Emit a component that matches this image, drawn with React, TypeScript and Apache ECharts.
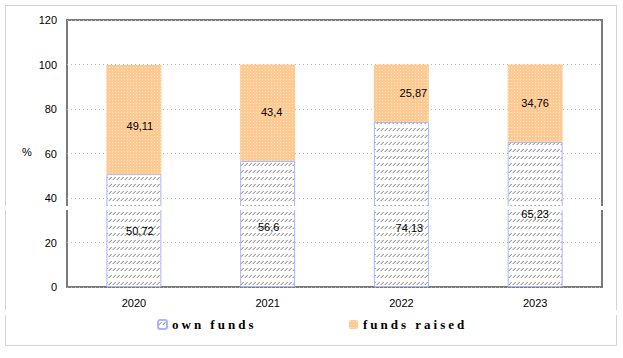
import React, { useEffect, useRef } from "react";
import * as echarts from "echarts";

const years = ["2020", "2021", "2022", "2023"];
const ownFunds = [50.72, 56.6, 74.13, 65.23];
const fundsRaised = [49.11, 43.4, 25.87, 34.76];
const ownLabelOffsets = [[6, 0], [1, 3], [8, 23], [0, 0]];
const raisedLabelOffsets = [[6, 6], [4, -1], [12, 0], [0, 0]];
const yTicks = { min: 0, max: 120, interval: 20 };

function hatchPattern(): HTMLCanvasElement {
  const c = document.createElement("canvas");
  c.width = 4;
  c.height = 7;
  const ctx = c.getContext("2d")!;
  ctx.fillStyle = "#ffffff";
  ctx.fillRect(0, 0, 4, 7);
  ctx.fillStyle = "#a4a4a4";
  ctx.fillRect(3, 2, 1, 1);
  ctx.fillRect(2, 3, 1, 1);
  ctx.fillRect(1, 4, 1, 1);
  ctx.fillStyle = "#d4d4d4";
  ctx.fillRect(2, 2, 1, 1);
  ctx.fillRect(1, 3, 1, 1);
  ctx.fillRect(0, 4, 1, 1);
  return c;
}

function dotPattern(): HTMLCanvasElement {
  const c = document.createElement("canvas");
  c.width = 3;
  c.height = 3;
  const ctx = c.getContext("2d")!;
  ctx.fillStyle = "#fec995";
  ctx.fillRect(0, 0, 3, 3);
  ctx.fillStyle = "#ffeab0";
  ctx.fillRect(1, 1, 1, 1);
  return c;
}

const fmt = (v: number) => String(v).replace(".", ",");

export default function App() {
  const ref = useRef<HTMLDivElement>(null);
  useEffect(() => {
    document.body.style.margin = "0";
    const chart = echarts.init(ref.current!, null, { renderer: "svg" });
    const hatch = { image: hatchPattern(), repeat: "repeat" };
    const dots = { image: dotPattern(), repeat: "repeat" };
    const font = "Liberation Sans";
    const legendText = { fontFamily: "Liberation Serif", fontWeight: "bold", fontSize: 13, color: "#000" };
    chart.setOption({
      animation: false,
      backgroundColor: "#ffffff",
      textStyle: { fontFamily: font },
      grid: {
        left: 67,
        right: 21,
        top: 20,
        bottom: 71,
        show: true,
        borderColor: "#7a7a7a",
        borderWidth: 2,
        backgroundColor: "transparent",
        outerBoundsMode: "none",
      },
      legend: [
        {
          data: ["own funds"],
          left: 157,
          top: 318,
          padding: 0,
          itemWidth: 9,
          itemHeight: 9,
          textStyle: legendText,
        },
        {
          data: ["funds raised"],
          left: 349,
          top: 318,
          padding: 0,
          itemWidth: 9,
          itemHeight: 9,
          textStyle: legendText,
        },
      ],
      xAxis: {
        type: "category",
        data: years,
        axisLine: { show: false },
        axisTick: { show: false },
        axisLabel: { color: "#000", fontSize: 11, fontFamily: font, margin: 10 },
      },
      yAxis: {
        type: "value",
        min: yTicks.min,
        max: yTicks.max,
        interval: yTicks.interval,
        axisLine: { show: false },
        axisTick: { show: false },
        axisLabel: { color: "#000", fontSize: 11, fontFamily: font, margin: 10 },
        splitLine: { lineStyle: { color: "#b8b8b8", type: [1, 3], width: 1 } },
      },
      series: [
        {
          name: "own funds",
          type: "bar",
          stack: "total",
          barWidth: 55,
          itemStyle: { color: hatch, borderColor: "#a8b4ff", borderWidth: 1 },
          label: {
            show: true,
            position: "inside",
            color: "#000",
            fontSize: 11,
            fontFamily: font,
            formatter: (p: any) => fmt(p.value),
          },
          data: ownFunds.map((v, i) => ({ value: v, label: { offset: ownLabelOffsets[i] } })),
        },
        {
          name: "funds raised",
          type: "bar",
          stack: "total",
          barWidth: 55,
          itemStyle: { color: dots },
          label: {
            show: true,
            position: "inside",
            color: "#000",
            fontSize: 11,
            fontFamily: font,
            formatter: (p: any) => fmt(p.value),
          },
          data: fundsRaised.map((v, i) => ({ value: v, label: { offset: raisedLabelOffsets[i] } })),
        },
      ],
      graphic: [
        {
          type: "rect",
          z: 50,
          shape: { x: 5.5, y: 5.5, width: 611, height: 340 },
          style: { fill: "none", stroke: "#a8a8a8", lineWidth: 1, lineDash: [1, 1] },
        },
        {
          type: "rect",
          z: 100,
          shape: { x: 0, y: 206, width: 612, height: 4 },
          style: { fill: "#ffffff" },
        },
        {
          type: "rect",
          z: 100,
          shape: { x: 0, y: 310, width: 10, height: 5 },
          style: { fill: "#ffffff" },
        },
        {
          type: "rect",
          z: 100,
          shape: { x: 612, y: 310, width: 10, height: 5 },
          style: { fill: "#ffffff" },
        },
        {
          type: "text",
          z: 60,
          x: 27,
          y: 152,
          style: { text: "%", fontSize: 11, fontFamily: font, fill: "#000", align: "center", verticalAlign: "middle" },
        },
      ],
    });
    return () => chart.dispose();
  }, []);
  return (
    <>
      <style>{`svg text[style*="bold"] { letter-spacing: 3px; }`}</style>
      <div ref={ref} style={{ width: 623, height: 358 }} />
    </>
  );
}
